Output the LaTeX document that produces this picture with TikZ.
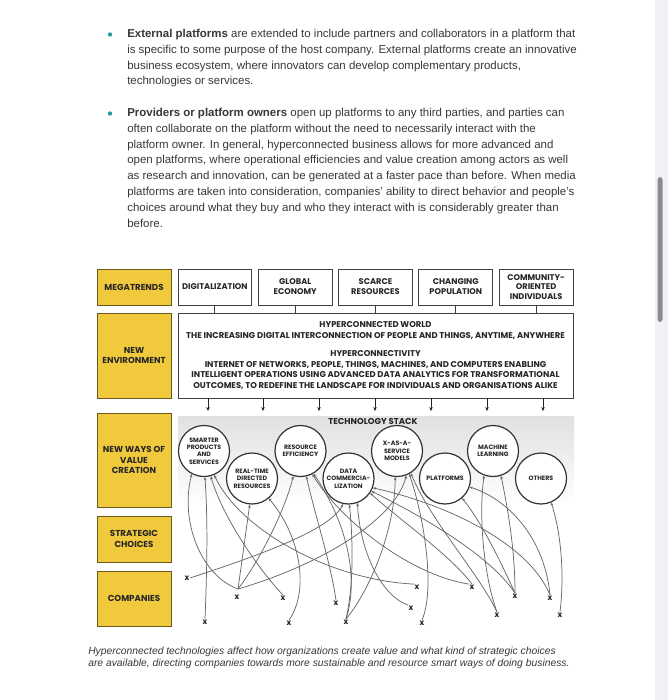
\documentclass[tikz,border=0pt]{standalone}
\usepackage{fontspec}
\setmainfont{Liberation Sans}
\newfontfamily\dg{Poppins}
\usetikzlibrary{arrows.meta,calc}
\definecolor{ylw}{HTML}{F0C93C}
\definecolor{ylwb}{HTML}{6B5A1E}
\definecolor{txt}{HTML}{383838}
\definecolor{tealc}{HTML}{2A9BA0}
\definecolor{sbtrack}{HTML}{F1F0F4}
\definecolor{sbthumb}{HTML}{8C8B90}
\tikzset{
 body/.style={inner sep=0pt, anchor=base west, text=txt, font=\fontsize{8.6}{10}\selectfont},
 capt/.style={inner sep=0pt, anchor=base west, text=txt, font=\fontsize{7.75}{9}\selectfont\itshape},
 bul/.style={circle, fill=tealc, inner sep=0pt, minimum size=3.3pt},
 ybox/.style={draw=ylwb, fill=ylw, line width=0.7pt, align=center, inner sep=0pt, text=black!85, minimum width=74*0.75pt, font=\dg\bfseries\fontsize{6.5}{7.6}\selectfont},
 wbox/.style={draw=black!75, fill=white, line width=0.7pt, align=center, inner sep=0pt, text=black!85, minimum width=73.8*0.75pt, minimum height=36*0.75pt, font=\dg\bfseries\fontsize{6.2}{7.4}\selectfont},
 bigbox/.style={draw=black!75, fill=white, line width=0.7pt, align=center, inner sep=0pt, text=black!85, minimum width=395*0.75pt, minimum height=85*0.75pt, font=\dg\bfseries\fontsize{6.3}{7.9}\selectfont},
 panel/.style={inner sep=0pt, minimum width=396*0.75pt, minimum height=89*0.75pt, top color=black!12, middle color=black!23, bottom color=white},
 tech/.style={circle, draw=black!80, fill=white, line width=0.9pt, minimum size=51*0.75pt, inner sep=0pt, align=center, text=black!85, font=\dg\bfseries\fontsize{4.7}{5.6}\selectfont},
 xm/.style={inner sep=0.3pt, text=black!85, font=\dg\bfseries\fontsize{6}{6}\selectfont},
 conn/.style={draw=black!60, line width=0.55pt, -{Stealth[length=2.4pt,width=2pt]}},
 darr/.style={draw=black!85, line width=0.6pt, -{Stealth[length=3pt,width=2.6pt]}, shorten >=3.5pt},
 stem/.style={draw=black!75, line width=0.7pt},
}
\begin{document}
\begin{tikzpicture}[x=0.75pt,y=-0.75pt]
\useasboundingbox (0,0) rectangle (668,700);
\fill[white] (0,0) rectangle (668,700);
% scrollbar
\fill[sbtrack] (655,0) rectangle (668,700);
\fill[sbthumb, rounded corners=2pt] (657.7,177) rectangle (662.5,322);

% bullet text
\node[bul] (b1) at (110,34.5) {};
\node[body] (t11) at (127,37.5) {\textbf{External platforms} are extended to include partners and collaborators in a platform that};
\node[body] (t12) at (127,53.3) {is specific to some purpose of the host company. External platforms create an innovative};
\node[body] (t13) at (127,69.1) {business ecosystem, where innovators can develop complementary products,};
\node[body] (t14) at (127,84.9) {technologies or services.};
\node[bul] (b2) at (110,113.5) {};
\node[body] (t21) at (127,116.5) {\textbf{Providers or platform owners} open up platforms to any third parties, and parties can};
\node[body] (t22) at (127,132.3) {often collaborate on the platform without the need to necessarily interact with the};
\node[body] (t23) at (127,148.1) {platform owner. In general, hyperconnected business allows for more advanced and};
\node[body] (t24) at (127,163.9) {open platforms, where operational efficiencies and value creation among actors as well};
\node[body] (t25) at (127,179.7) {as research and innovation, can be generated at a faster pace than before. When media};
\node[body] (t26) at (127,195.5) {platforms are taken into consideration, companies’ ability to direct behavior and people’s};
\node[body] (t27) at (127,211.3) {choices around what they buy and who they interact with is considerably greater than};
\node[body] (t28) at (127,227.1) {before.};

% left yellow boxes
\node[ybox, minimum height=36*0.75pt] (mega) at (134,287) {MEGATRENDS};
\node[ybox, minimum height=85*0.75pt] (newenv) at (134,355.5) {NEW\\ENVIRONMENT};
\node[ybox, minimum height=94*0.75pt] (newways) at (134,460) {NEW WAYS OF\\VALUE\\CREATION};
\node[ybox, minimum height=46*0.75pt] (strat) at (134,539) {STRATEGIC\\CHOICES};
\node[ybox, minimum height=55*0.75pt] (comp) at (134,598.5) {COMPANIES};

% megatrend boxes
\node[wbox] (h1) at (214.9,287) {DIGITALIZATION};
\node[wbox] (h2) at (295.2,287) {GLOBAL\\ECONOMY};
\node[wbox] (h3) at (375.5,287) {SCARCE\\RESOURCES};
\node[wbox] (h4) at (455.8,287) {CHANGING\\POPULATION};
\node[wbox] (h5) at (536.1,287) {COMMUNITY-\\ORIENTED\\INDIVIDUALS};

% big box
\node[bigbox] (big) at (375.5,355.5) {HYPERCONNECTED WORLD\\THE INCREASING DIGITAL INTERCONNECTION OF PEOPLE AND THINGS, ANYTIME, ANYWHERE\\[6pt]HYPERCONNECTIVITY\\INTERNET OF NETWORKS, PEOPLE, THINGS, MACHINES, AND COMPUTERS ENABLING\\INTELLIGENT OPERATIONS USING ADVANCED DATA ANALYTICS FOR TRANSFORMATIONAL\\OUTCOMES, TO REDEFINE THE LANDSCAPE FOR INDIVIDUALS AND ORGANISATIONS ALIKE};

\foreach \h in {h1,h2,h3,h4,h5} {\draw[stem] (\h.south) -- (\h.south |- big.north);}

% technology panel
\node[panel] (panel) at (376,460.5) {};
\node[inner sep=0pt, text=black!85, font=\dg\bfseries\fontsize{6.4}{7}\selectfont] (ts) at (373,421.5) {TECHNOLOGY STACK};

\foreach \i/\xx in {1/208,2/263,3/319,4/375,5/431,6/487,7/543} {
  \coordinate (ax\i) at (\xx,0);
  \draw[darr] (big.south -| ax\i) -- (panel.north -| ax\i);
}

% technology circles
\node[tech] (s1) at (204,451) {SMARTER\\PRODUCTS\\AND\\SERVICES};
\node[tech] (s2) at (252,478.5) {REAL-TIME\\DIRECTED\\RESOURCES};
\node[tech] (s3) at (300.5,451) {RESOURCE\\EFFICIENCY};
\node[tech] (s4) at (348.5,478.5) {DATA\\COMMERCIA-\\LIZATION};
\node[tech] (s5) at (397,451) {X-AS-A-\\SERVICE\\MODELS};
\node[tech] (s6) at (445,478.5) {PLATFORMS};
\node[tech] (s7) at (493,451) {MACHINE\\LEARNING};
\node[tech] (s8) at (541,478.5) {OTHERS};

% companies
\node[xm] (x1) at (187,578) {x};
\node[xm] (x2) at (237,597) {x};
\coordinate (j2) at (238,589);
\node[xm] (x3) at (283,598) {x};
\node[xm] (x4) at (336,603) {x};
\node[xm] (x5) at (205,622) {x};
\node[xm] (x6) at (289,623) {x};
\node[xm] (x7) at (346,622) {x};
\node[xm] (x8) at (417,587) {x};
\node[xm] (x9) at (472,587) {x};
\node[xm] (x10) at (515,596) {x};
\node[xm] (x11) at (550,598) {x};
\node[xm] (x12) at (411,608) {x};
\node[xm] (x13) at (422,623) {x};
\node[xm] (x14) at (497,615) {x};
\node[xm] (x15) at (560,615) {x};

% connections
\draw[conn] (j2) .. controls (200,575) and (180,520) .. (s1.242);
\draw[conn] (x5.north) .. controls (207,570) and (208,520) .. (s1.272);
\draw[conn] (x3.north) .. controls (255,565) and (222,515) .. (s1.285);
\draw[conn] (x8.north west) .. controls (330,580) and (240,530) .. (s1.293);
\draw[conn] (j2) -- (s2.265);
\draw[conn] (j2) .. controls (260,560) and (285,510) .. (s3.254);
\draw[conn] (j2) .. controls (320,565) and (395,520) .. (s5.291);
\draw[conn] (x1.east) .. controls (260,555) and (330,530) .. (s4.258);
\draw[conn] (x6.north) .. controls (310,590) and (300,535) .. (s2.310);
\draw[conn] (x4.north) .. controls (330,560) and (315,515) .. (s3.283);
\draw[conn] (x9.north west) .. controls (410,575) and (340,520) .. (s3.297);
\draw[conn] (x7.north) .. controls (360,575) and (345,520) .. (s3.300);
\draw[conn] (x7.north) .. controls (355,580) and (352,530) .. (s4.272);
\draw[conn] (x7.north) .. controls (370,590) and (395,530) .. (s5.266);
\draw[conn] (x12.north west) .. controls (380,595) and (360,550) .. (s4.290);
\draw[conn] (x13.north) .. controls (435,590) and (425,520) .. (s5.298);
\draw[conn] (x14.north) .. controls (480,575) and (430,520) .. (s5.302);
\draw[conn] (x9.north) .. controls (450,555) and (400,520) .. (s4.326);
\draw[conn] (x10.north) .. controls (490,555) and (420,515) .. (s4.331);
\draw[conn] (x11.north) .. controls (530,545) and (450,505) .. (s4.339);
\draw[conn] (x10.north) .. controls (500,560) and (480,520) .. (s6.311);
\draw[conn] (x11.north) .. controls (545,540) and (510,500) .. (s6.341);
\draw[conn] (x14.north) .. controls (485,580) and (478,520) .. (s7.250);
\draw[conn] (x10.north) .. controls (515,550) and (508,510) .. (s7.288);
\draw[conn] (x15.north) .. controls (565,570) and (560,530) .. (s8.293);

% caption
\node[capt] (c1) at (88,654) {Hyperconnected technologies affect how organizations create value and what kind of strategic choices};
\node[capt] (c2) at (88,666.5) {are available, directing companies towards more sustainable and resource smart ways of doing business.};
\end{tikzpicture}
\end{document}
